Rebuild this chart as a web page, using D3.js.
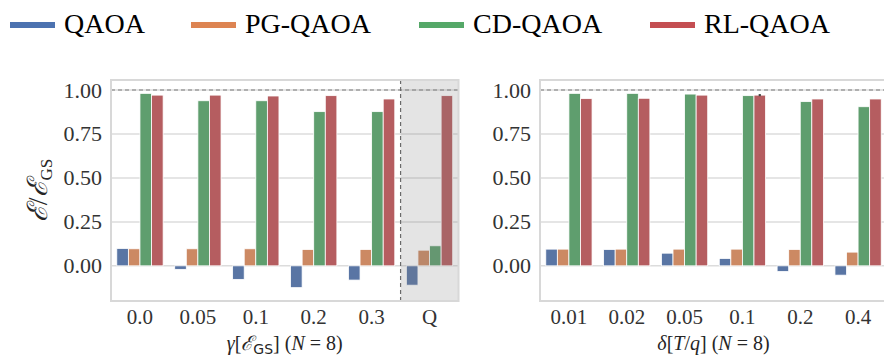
<!DOCTYPE html>
<html><head><meta charset="utf-8"><script src="https://cdn.jsdelivr.net/npm/d3@7"></script></head>
<body style="margin:0">
<div id="c"></div>
<script>
const width = 884, height = 364;
const SERIF = "'Liberation Serif'";

// --- Data ---
const series = ["QAOA", "PG-QAOA", "CD-QAOA", "RL-QAOA"];
const leftCats = ["0.0", "0.05", "0.1", "0.2", "0.3", "Q"];
const rightCats = ["0.01", "0.02", "0.05", "0.1", "0.2", "0.4"];

const leftQAOA = [0.099, -0.020, -0.077, -0.124, -0.081, -0.110];
const leftPG   = [0.097, 0.097, 0.097, 0.093, 0.093, 0.089];
const leftCD   = [0.981, 0.939, 0.939, 0.877, 0.877, 0.114];
const leftRL   = [0.971, 0.971, 0.966, 0.968, 0.949, 0.968];

const rightQAOA = [0.095, 0.093, 0.072, 0.042, -0.032, -0.053];
const rightPG   = [0.095, 0.095, 0.095, 0.095, 0.093, 0.078];
const rightCD   = [0.981, 0.981, 0.977, 0.968, 0.934, 0.905];
const rightRL   = [0.951, 0.953, 0.971, 0.971, 0.949, 0.949];
const rightRLerr = [0, 0, 0, 0.006, 0, 0];

const yTicks = [0, 0.25, 0.5, 0.75, 1.0];

// seaborn "deep" (legend) and its 0.75-desaturated version (bars)
const legendColors = ["#4c72b0", "#dd8452", "#55a868", "#c44e52"];
const barColors = ["#5975a4", "#cc8963", "#5f9e6e", "#b55d60"];

// --- Layout ---
const plotTop = 80, plotBottom = 301;
const y = d3.scaleLinear().domain([-0.2, 1.057]).range([plotBottom, plotTop]);

const svg = d3.select("#c").append("svg")
  .attr("width", width).attr("height", height);

// every text gets the serif face set the same way
const txt = (sel, size) => sel.style("font-family", SERIF).style("font-size", `${size}px`);

function panel(x0, x1, cats, vals, errs, shadeLast, xlabelFn) {
  const g = svg.append("g");
  const x = d3.scaleBand().domain(cats).range([x0, x1]).paddingInner(0.2).paddingOuter(0.1);
  const xs = d3.scaleBand().domain(series).range([0, x.bandwidth()]);

  // grid
  yTicks.forEach(v => {
    g.append("line")
      .attr("x1", x0).attr("x2", x1).attr("y1", y(v)).attr("y2", y(v))
      .attr("stroke", "#dcdcdc").attr("stroke-width", 1.5);
  });

  // bars
  const rows = [];
  cats.forEach((c, i) => series.forEach((s, j) => rows.push({ c, s, j, v: vals[j][i] })));
  g.selectAll("rect.bar").data(rows).join("rect")
    .attr("x", d => x(d.c) + xs(d.s))
    .attr("width", xs.bandwidth())
    .attr("y", d => y(Math.max(0, d.v)))
    .attr("height", d => Math.abs(y(d.v) - y(0)))
    .attr("fill", d => barColors[d.j])
    .attr("stroke", "#fff").attr("stroke-width", 0.8);

  // error marks
  if (errs) {
    cats.forEach((c, i) => {
      if (!errs[i]) return;
      const cx = x(c) + xs("RL-QAOA") + xs.bandwidth() / 2;
      g.append("line")
        .attr("x1", cx).attr("x2", cx)
        .attr("y1", y(vals[3][i] - errs[i])).attr("y2", y(vals[3][i] + errs[i]))
        .attr("stroke", "#444").attr("stroke-width", 2.2);
    });
  }

  // reference line at 1
  g.append("line")
    .attr("x1", x0).attr("x2", x1).attr("y1", y(1)).attr("y2", y(1))
    .attr("stroke", "#7a7a7a").attr("stroke-width", 1.2).attr("stroke-dasharray", "4,3");

  // shaded last category
  if (shadeLast) {
    const sx = x(cats[cats.length - 1]) - x.step() * x.paddingInner() / 2;
    g.append("rect")
      .attr("x", sx).attr("y", plotTop).attr("width", x1 - sx).attr("height", plotBottom - plotTop)
      .attr("fill", "#808080").attr("fill-opacity", 0.21);
    g.append("line")
      .attr("x1", sx).attr("x2", sx).attr("y1", plotTop).attr("y2", plotBottom)
      .attr("stroke", "#6a6a6a").attr("stroke-width", 1.2).attr("stroke-dasharray", "4,3");
  }

  // frame
  g.append("rect")
    .attr("x", x0).attr("y", plotTop).attr("width", x1 - x0).attr("height", plotBottom - plotTop)
    .attr("fill", "none").attr("stroke", "#d8d8d8").attr("stroke-width", 2);

  // y tick labels
  yTicks.forEach(v => {
    txt(g.append("text"), 22)
      .attr("x", x0 - 9).attr("y", y(v)).attr("dy", "0.34em")
      .attr("text-anchor", "end").attr("fill", "#333")
      .text(d3.format(".2f")(v));
  });

  // x tick labels
  cats.forEach(c => {
    txt(g.append("text"), 21)
      .attr("x", x(c) + x.bandwidth() / 2).attr("y", 324)
      .attr("text-anchor", "middle").attr("fill", "#333")
      .text(c);
  });

  // x label
  const lab = txt(g.append("text"), 20)
    .attr("x", (x0 + x1) / 2).attr("y", 350)
    .attr("text-anchor", "middle").attr("fill", "#262626");
  xlabelFn(lab);
}

panel(111, 458.5, leftCats, [leftQAOA, leftPG, leftCD, leftRL], null, true, lab => {
  lab.append("tspan").style("font-style", "italic").text("γ");
  lab.append("tspan").text("[");
  lab.append("tspan").style("font-style", "italic").text("ℰ");
  lab.append("tspan").attr("dy", 4).style("font-family", "'DejaVu Sans'").style("font-size", "14px").text("GS");
  lab.append("tspan").attr("dy", -4).text("] (");
  lab.append("tspan").style("font-style", "italic").text("N");
  lab.append("tspan").text(" = 8)");
});

panel(540, 887, rightCats, [rightQAOA, rightPG, rightCD, rightRL], rightRLerr, false, lab => {
  lab.append("tspan").style("font-style", "italic").text("δ");
  lab.append("tspan").text("[");
  lab.append("tspan").style("font-style", "italic").text("T");
  lab.append("tspan").text("/");
  lab.append("tspan").style("font-style", "italic").text("q");
  lab.append("tspan").text("] (");
  lab.append("tspan").style("font-style", "italic").text("N");
  lab.append("tspan").text(" = 8)");
});

// y label
const yl = txt(svg.append("text"), 28)
  .attr("transform", `translate(47,${(plotTop + plotBottom) / 2}) rotate(-90)`)
  .attr("text-anchor", "middle").attr("fill", "#262626");
yl.append("tspan").style("font-style", "italic").text("ℰ");
yl.append("tspan").text("/");
yl.append("tspan").style("font-style", "italic").text("ℰ");
yl.append("tspan").attr("dy", 5).style("font-size", "17px").text("GS");

// legend
const legendX = [10, 191, 419, 650];
series.forEach((s, i) => {
  svg.append("line")
    .attr("x1", legendX[i]).attr("x2", legendX[i] + 45)
    .attr("y1", 25).attr("y2", 25)
    .attr("stroke", legendColors[i]).attr("stroke-width", 6);
  txt(svg.append("text"), 28)
    .attr("x", legendX[i] + 54).attr("y", 33)
    .attr("fill", "#000")
    .text(s);
});
</script>
</body>
</html>
